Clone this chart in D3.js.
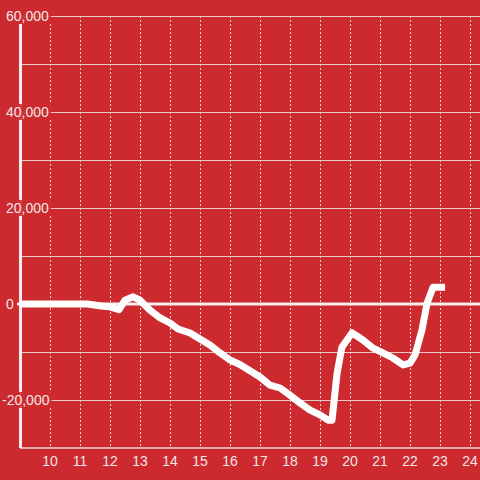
<!DOCTYPE html>
<html>
<head>
<meta charset="utf-8">
<script src="https://cdn.jsdelivr.net/npm/d3@7"></script>
<style>
	body { margin: 0; background: #cc2a2f; }
	text { font-family: "Liberation Sans", Arial, sans-serif; font-size: 14px; fill: #f2e6e6; }
</style>
</head>
<body>
<div id="chart"></div>
<script>
// hour of day -> running value
var hours = [9, 11.25, 11.7, 12.0, 12.3, 12.5, 12.77, 13.0, 13.33, 13.67, 14.0, 14.27, 14.67, 15.0, 15.33, 15.67, 16.0, 16.33, 17.0, 17.33, 17.67, 18.0, 18.33, 18.67, 19.0, 19.27, 19.4, 19.57, 19.73, 20.07, 20.43, 20.77, 21.1, 21.43, 21.77, 22.0, 22.17, 22.4, 22.57, 22.77, 23.17];
var values = [0, 0, -400, -600, -1200, 800, 1500, 800, -1250, -2900, -3960, -5200, -6040, -7300, -8540, -10200, -11670, -12600, -15200, -16900, -17500, -19000, -20600, -22100, -23100, -24200, -24200, -14400, -9000, -6000, -7500, -9200, -10200, -11250, -12700, -12300, -10600, -5400, 200, 3500, 3500];
var xTicks = [10, 11, 12, 13, 14, 15, 16, 17, 18, 19, 20, 21, 22, 23, 24];
var yTicks = [-30000, -20000, -10000, 0, 10000, 20000, 30000, 40000, 50000, 60000];
var yLabels = [-20000, 0, 20000, 40000, 60000];

var width = 480, height = 480,
	margins = {"top": 16, "bottom": 32, "left": 20, "right": 0},
	bg = "#cc2a2f";

var svg = d3.select("#chart")
	.append("svg")
	.attr("width", width)
	.attr("height", height);

svg.append("rect").attr("width", width).attr("height", height).attr("fill", bg);

var x = d3.scaleLinear()
	.domain([9, 9 + (width - margins.left) / 30])
	.range([margins.left, width - margins.right]);

var y = d3.scaleLinear()
	.domain([-30000, 60000])
	.range([height - margins.bottom, margins.top]);

// vertical dotted grid
svg.append("g").selectAll("line")
	.data(xTicks)
	.enter().append("line")
	.attr("x1", function(d) { return Math.round(x(d)) + 0.5; })
	.attr("x2", function(d) { return Math.round(x(d)) + 0.5; })
	.attr("y1", margins.top)
	.attr("y2", height - margins.bottom)
	.attr("stroke", "#e8d0d0")
	.attr("stroke-width", 1)
	.attr("stroke-dasharray", "2,2");

// horizontal grid
svg.append("g").selectAll("line")
	.data(yTicks.filter(function(d) { return d != 0 && d != -30000; }))
	.enter().append("line")
	.attr("x1", margins.left)
	.attr("x2", width)
	.attr("y1", function(d) { return Math.round(y(d)) + 0.5; })
	.attr("y2", function(d) { return Math.round(y(d)) + 0.5; })
	.attr("stroke", "#e6caca")
	.attr("stroke-width", 1);

// bottom axis line
svg.append("line")
	.attr("x1", margins.left).attr("x2", width)
	.attr("y1", y(-30000)).attr("y2", y(-30000))
	.attr("stroke", "#e6d6d6").attr("stroke-width", 1.5);

// left axis line
svg.append("line")
	.attr("x1", margins.left + 0.5).attr("x2", margins.left + 0.5)
	.attr("y1", y(58400)).attr("y2", y(-30000))
	.attr("stroke", "#f4eeee").attr("stroke-width", 3);

// y labels with background
var fmt = d3.format(",");
var yl = svg.append("g").selectAll("g")
	.data(yLabels)
	.enter().append("g");

yl.append("text")
	.attr("x", function(d) { return d < 0 ? 2 : 6; })
	.attr("y", function(d) { return y(d); })
	.attr("dy", "0.35em")
	.text(function(d) { return d < 0 ? "-" + fmt(-d) : fmt(d); });

yl.each(function(d) {
	if (d == 0) return;
	var t = d3.select(this).select("text"),
		b = t.node().getBBox();
	d3.select(this).insert("rect", "text")
		.attr("x", b.x - 2)
		.attr("y", b.y)
		.attr("width", b.width + 4)
		.attr("height", b.height)
		.attr("fill", bg)
		.attr("fill-opacity", 0.9);
});

// zero line
svg.append("line")
	.attr("x1", 17).attr("x2", width)
	.attr("y1", y(0)).attr("y2", y(0))
	.attr("stroke", "#f4eeee").attr("stroke-width", 3);

// x labels
svg.append("g").selectAll("text")
	.data(xTicks)
	.enter().append("text")
	.attr("x", function(d) { return x(d); })
	.attr("y", height - margins.bottom + 13)
	.attr("dy", "0.35em")
	.attr("text-anchor", "middle")
	.text(function(d) { return d; });

var line = d3.line()
	.x(function(d, i) { return x(hours[i]); })
	.y(function(d) { return y(d); });

svg.append("path")
	.attr("d", line(values))
	.attr("fill", "none")
	.attr("stroke", "#ffffff")
	.attr("stroke-width", 7)
	.attr("stroke-linejoin", "round")
	.attr("stroke-linecap", "butt");
</script>
</body>
</html>
